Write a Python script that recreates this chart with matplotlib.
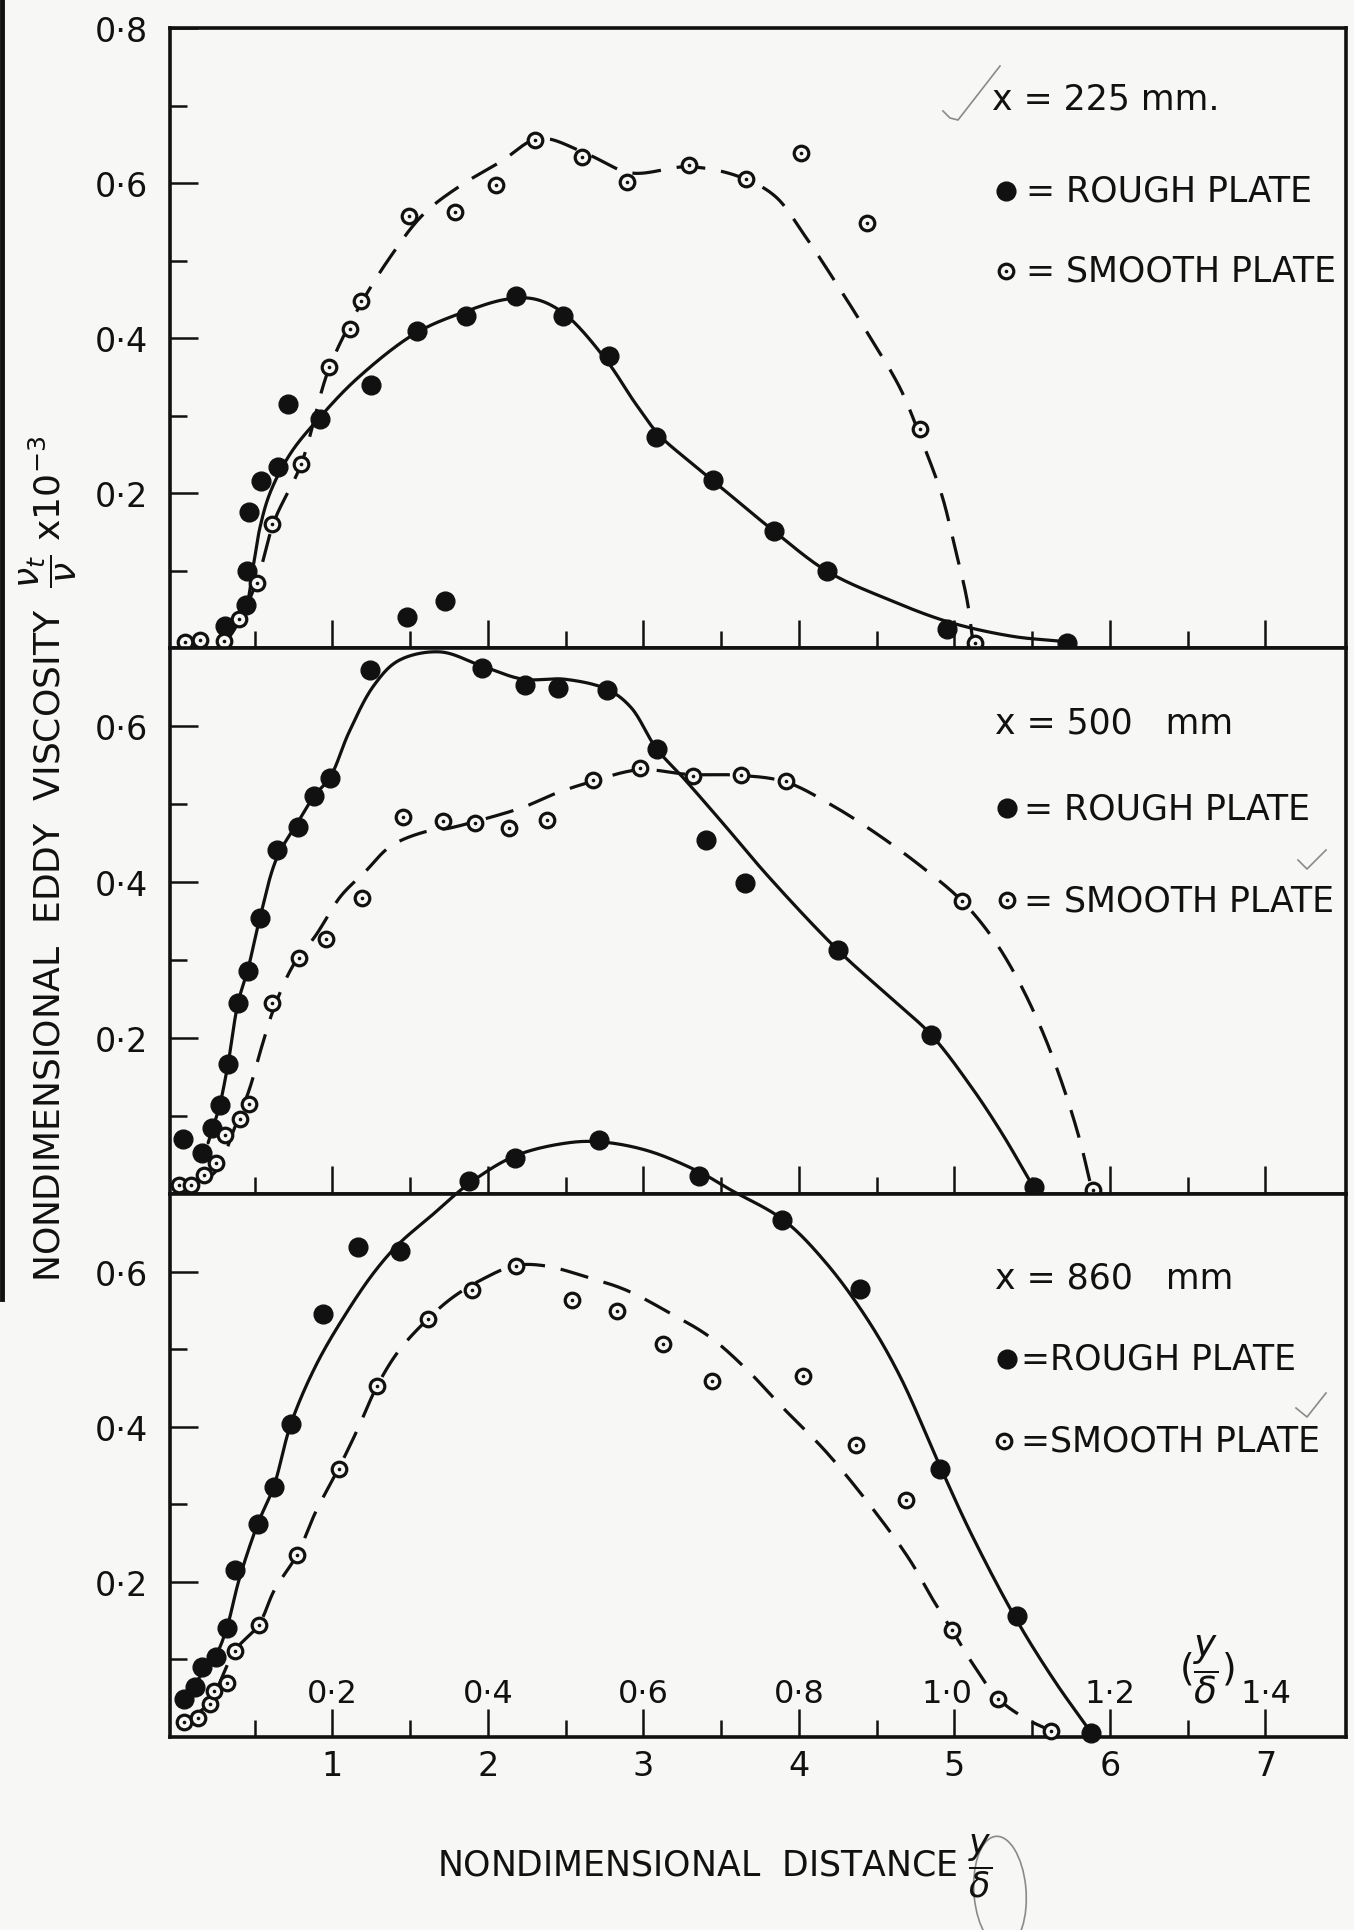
import numpy as np
import matplotlib
matplotlib.use("Agg")
import matplotlib.pyplot as plt
from matplotlib.lines import Line2D
from matplotlib.patches import Ellipse
from matplotlib.ticker import FixedLocator, FixedFormatter, NullFormatter

plt.rcParams['font.family'] = ['DejaVu Sans']
plt.rcParams['mathtext.fontset'] = 'dejavusans'

PAPER = '#f7f7f5'
INK = '#111111'

# ---------------- x = 225 mm ----------------
x225_rough = [0.306, 0.445, 0.453, 0.466, 0.541, 0.648, 0.714, 0.92, 1.245, 1.479,
              1.546, 1.725, 1.861, 2.178, 2.484, 2.778, 3.079, 3.447, 3.84, 4.181,
              4.951, 5.723]
nu225_rough = [0.029, 0.056, 0.099, 0.176, 0.215, 0.233, 0.315, 0.296, 0.339, 0.040,
               0.409, 0.061, 0.429, 0.454, 0.429, 0.377, 0.2725, 0.217, 0.151, 0.099,
               0.024, 0.006]
x225_smooth = [0.053, 0.146, 0.301, 0.40, 0.514, 0.613, 0.80, 0.978, 1.111, 1.181,
               1.493, 1.786, 2.053, 2.30, 2.607, 2.893, 3.29, 3.66, 4.01, 4.436,
               4.78, 5.133]
nu225_smooth = [0.008, 0.010, 0.009, 0.038, 0.084, 0.160, 0.238, 0.363, 0.411, 0.448,
                0.558, 0.5625, 0.598, 0.655, 0.634, 0.601, 0.623, 0.605, 0.639, 0.548,
                0.283, 0.006]
# faired curves
fx225_rough = [0.306, 0.426, 0.493, 0.533, 0.60, 0.733, 0.92, 1.16, 1.533, 1.853,
               2.119, 2.306, 2.493, 2.759, 2.95, 3.1, 3.3, 3.5, 3.826, 4.181,
               4.57, 4.972, 5.375, 5.67]
fy225_rough = [0.026, 0.045, 0.109, 0.155, 0.201, 0.252, 0.298, 0.348, 0.406, 0.434,
               0.450, 0.450, 0.431, 0.372, 0.315, 0.275, 0.240, 0.207, 0.153, 0.099,
               0.063, 0.033, 0.015, 0.009]
fx225_smooth = [0.30, 0.346, 0.506, 0.626, 0.80, 0.973, 1.16, 1.373, 1.586, 1.826,
                2.093, 2.279, 2.386, 2.653, 2.919, 3.293, 3.612, 3.846, 4.034, 4.248,
                4.436, 4.651, 4.785, 4.919, 5.0, 5.08, 5.12]
fy225_smooth = [0.009, 0.017, 0.082, 0.164, 0.238, 0.358, 0.436, 0.505, 0.560, 0.597,
                0.629, 0.6545, 0.657, 0.636, 0.613, 0.621, 0.6085, 0.583, 0.533, 0.468,
                0.408, 0.335, 0.270, 0.197, 0.132, 0.063, 0.006]

# ---------------- x = 500 mm ----------------
x500_rough = [0.04, 0.16, 0.226, 0.274, 0.328, 0.392, 0.458, 0.533, 0.64, 0.781,
              0.88, 0.986, 1.239, 1.96, 2.24, 2.453, 2.767, 3.084, 3.40, 3.652,
              4.248, 4.851, 5.509]
nu500_rough = [0.071, 0.053, 0.085, 0.114, 0.167, 0.245, 0.286, 0.354, 0.441, 0.471,
               0.51, 0.533, 0.672, 0.6745, 0.652, 0.649, 0.646, 0.571, 0.454, 0.399,
               0.313, 0.2045, 0.009]
x500_smooth = [0.013, 0.093, 0.173, 0.253, 0.306, 0.408, 0.461, 0.613, 0.786, 0.96,
               1.19, 1.453, 1.711, 1.914, 2.133, 2.381, 2.674, 2.978, 3.319, 3.626,
               3.916, 5.048, 5.889]
nu500_smooth = [0.0115, 0.012, 0.025, 0.040, 0.0755, 0.096, 0.116, 0.245, 0.303, 0.327,
                0.380, 0.484, 0.478, 0.476, 0.469, 0.480, 0.5305, 0.5465, 0.536, 0.537,
                0.529, 0.376, 0.0055]
fx500_rough = [0.20, 0.274, 0.328, 0.392, 0.458, 0.533, 0.64, 0.781, 0.88, 0.986,
               1.106, 1.266, 1.426, 1.693, 1.96, 2.226, 2.493, 2.767, 2.919, 3.084,
               3.25, 3.5, 3.8, 4.25, 4.6, 4.85, 5.1, 5.3, 5.509]
fy500_rough = [0.066, 0.114, 0.167, 0.245, 0.29, 0.354, 0.43, 0.478, 0.51, 0.535,
               0.592, 0.652, 0.684, 0.695, 0.677, 0.66, 0.66, 0.647, 0.624, 0.571,
               0.535, 0.478, 0.408, 0.313, 0.25, 0.2045, 0.14, 0.08, 0.009]
fx500_smooth = [0.17, 0.266, 0.36, 0.466, 0.546, 0.626, 0.746, 0.893, 1.053, 1.213,
                1.373, 1.586, 1.746, 1.96, 2.226, 2.439, 2.653, 2.973, 3.293, 3.612,
                3.913, 4.2, 4.5, 4.8, 5.048, 5.24, 5.40, 5.563, 5.696, 5.804,
                5.884]
fy500_smooth = [0.015, 0.034, 0.080, 0.135, 0.190, 0.240, 0.293, 0.332, 0.382, 0.414,
                0.446, 0.464, 0.469, 0.480, 0.496, 0.514, 0.528, 0.544, 0.538, 0.537,
                0.5285, 0.50, 0.462, 0.418, 0.376, 0.33, 0.278, 0.21, 0.14, 0.071,
                0.0055]

# ---------------- x = 860 mm ----------------
x860_rough = [0.045, 0.114, 0.16, 0.248, 0.32, 0.373, 0.52, 0.621, 0.733, 0.941,
              1.165, 1.434, 1.879, 2.172, 2.714, 3.359, 3.89, 4.39, 4.905, 5.401,
              5.879]
nu860_rough = [0.049, 0.064, 0.090, 0.1026, 0.1395, 0.2155, 0.275, 0.322, 0.404, 0.546,
               0.632, 0.6275, 0.717, 0.747, 0.770, 0.724, 0.667, 0.578, 0.346, 0.156,
               0.005]
x860_smooth = [0.045, 0.133, 0.213, 0.24, 0.32, 0.373, 0.525, 0.773, 1.039, 1.287,
               1.613, 1.898, 2.181, 2.538, 2.831, 3.127, 3.439, 4.028, 4.369, 4.691,
               4.986, 5.281, 5.624]
nu860_smooth = [0.019, 0.0235, 0.042, 0.059, 0.0695, 0.110, 0.144, 0.235, 0.346, 0.4526,
                0.539, 0.577, 0.607, 0.563, 0.549, 0.507, 0.4595, 0.4655, 0.377, 0.306,
                0.137, 0.049, 0.007]
fx860_rough = [0.04, 0.16, 0.253, 0.32, 0.40, 0.52, 0.621, 0.733, 0.893, 1.08,
               1.266, 1.426, 1.639, 1.879, 2.172, 2.493, 2.714, 3.026, 3.359, 3.559,
               3.90, 4.168, 4.436, 4.65, 4.905, 5.107, 5.401, 5.643, 5.879]
fy860_rough = [0.042, 0.081, 0.106, 0.14, 0.203, 0.275, 0.322, 0.404, 0.479, 0.544,
               0.599, 0.636, 0.673, 0.714, 0.7495, 0.766, 0.768, 0.7565, 0.729, 0.706,
               0.667, 0.613, 0.540, 0.465, 0.350, 0.262, 0.150, 0.072, 0.005]
fx860_smooth = [0.045, 0.2, 0.373, 0.525, 0.626, 0.773, 0.893, 1.039, 1.16, 1.287,
                1.426, 1.613, 1.773, 1.96, 2.172, 2.359, 2.626, 2.893, 3.159, 3.426,
                3.66, 3.899, 4.168, 4.436, 4.704, 4.865, 4.986, 5.107, 5.281, 5.455,
                5.624]
fy860_smooth = [0.019, 0.042, 0.111, 0.144, 0.189, 0.235, 0.2905, 0.346, 0.396, 0.4526,
                0.498, 0.539, 0.567, 0.590, 0.608, 0.608, 0.594, 0.576, 0.548, 0.516,
                0.4747, 0.424, 0.369, 0.304, 0.2306, 0.1755, 0.137, 0.097, 0.049, 0.0235,
                0.007]

stations = ['x = 225 mm.', 'x = 500   mm', 'x = 860   mm']
rough_text = ['= ROUGH PLATE', '= ROUGH PLATE', '=ROUGH PLATE']
smooth_text = ['= SMOOTH PLATE', '= SMOOTH PLATE', '=SMOOTH PLATE']
y_ticks_major = [[0.2, 0.4, 0.6, 0.8], [0.2, 0.4, 0.6], [0.2, 0.4, 0.6]]
x_tick_labels = ['1', '2', '3', '4', '5', '6', '7']
y_over_delta = ['0·2', '0·4', '0·6', '0·8', '1·0', '1·2', '1·4']


def faired(xs, ys, n=40, yscale=5.0):
    """Centripetal Catmull-Rom curve through the faired-curve nodes."""
    P = np.column_stack([xs, np.asarray(ys) * yscale]).astype(float)
    P = np.vstack([2 * P[0] - P[1], P, 2 * P[-1] - P[-2]])
    out = []
    for i in range(1, len(P) - 2):
        p0, p1, p2, p3 = P[i - 1], P[i], P[i + 1], P[i + 2]
        t0 = 0.0
        t1 = t0 + np.linalg.norm(p1 - p0) ** 0.5
        t2 = t1 + np.linalg.norm(p2 - p1) ** 0.5
        t3 = t2 + np.linalg.norm(p3 - p2) ** 0.5
        t = np.linspace(t1, t2, n, endpoint=False)[:, None]
        a1 = (t1 - t) / (t1 - t0) * p0 + (t - t0) / (t1 - t0) * p1
        a2 = (t2 - t) / (t2 - t1) * p1 + (t - t1) / (t2 - t1) * p2
        a3 = (t3 - t) / (t3 - t2) * p2 + (t - t2) / (t3 - t2) * p3
        b1 = (t2 - t) / (t2 - t0) * a1 + (t - t0) / (t2 - t0) * a2
        b2 = (t3 - t) / (t3 - t1) * a2 + (t - t1) / (t3 - t1) * a3
        c = (t2 - t) / (t2 - t1) * b1 + (t - t1) / (t2 - t1) * b2
        out.append(c)
    out.append(P[-2][None])
    C = np.vstack(out)
    return C[:, 0], C[:, 1] / yscale


W, H = 1354, 1931
fig = plt.figure(figsize=(W / 100, H / 100), dpi=100, facecolor=PAPER)

left = 170 / W
width = (1346 - 170) / W
edges = [29, 649, 1195.4, 1737.5]
ylims = [0.8, 0.70, 0.70]

panels = [
    (x225_rough, nu225_rough, x225_smooth, nu225_smooth,
     fx225_rough, fy225_rough, fx225_smooth, fy225_smooth),
    (x500_rough, nu500_rough, x500_smooth, nu500_smooth,
     fx500_rough, fy500_rough, fx500_smooth, fy500_smooth),
    (x860_rough, nu860_rough, x860_smooth, nu860_smooth,
     fx860_rough, fy860_rough, fx860_smooth, fy860_smooth),
]
# legend anchor positions (data units of each panel)
legend_pos = [
    dict(title=(5.24, 0.709), rough=(5.33, 0.590), smooth=(5.33, 0.487), tx=5.46),
    dict(title=(5.26, 0.604), rough=(5.34, 0.495), smooth=(5.34, 0.377), tx=5.45),
    dict(title=(5.26, 0.593), rough=(5.34, 0.488), smooth=(5.32, 0.382), tx=5.43),
]
LEG_FS = 25

LW_SPINE = 2.6
LW_CURVE = 2.3

axes = []
for i in range(3):
    top, bot = edges[i], edges[i + 1]
    ax = fig.add_axes([left, 1 - bot / H, width, (bot - top) / H])
    ax.set_facecolor(PAPER)
    ax.set_xlim(-0.045, 7.518)
    ax.set_ylim(0, ylims[i])
    for s in ax.spines.values():
        s.set_linewidth(LW_SPINE)
        s.set_color(INK)
    ax.xaxis.set_major_locator(FixedLocator([1, 2, 3, 4, 5, 6, 7]))
    ax.xaxis.set_minor_locator(FixedLocator([0.5, 1.5, 2.5, 3.5, 4.5, 5.5, 6.5]))
    ymaj = y_ticks_major[i]
    ax.yaxis.set_major_locator(FixedLocator(ymaj))
    ax.yaxis.set_major_formatter(FixedFormatter([f'{v:.1f}'.replace('.', '·') for v in ymaj]))
    ax.yaxis.set_minor_locator(FixedLocator([0.1, 0.3, 0.5, 0.7][:4 if i == 0 else 3]))
    ax.yaxis.set_minor_formatter(NullFormatter())
    ax.tick_params(which='major', direction='in', length=20, width=1.8, color=INK,
                   top=False, right=False, labelsize=24, labelcolor=INK)
    ax.tick_params(which='minor', direction='in', length=12, width=1.8, color=INK,
                   top=False, right=False)
    ax.tick_params(axis='y', which='major', pad=16)
    if i < 2:
        ax.tick_params(axis='x', labelbottom=False)
    else:
        ax.xaxis.set_major_formatter(FixedFormatter(x_tick_labels))
        ax.tick_params(axis='x', which='major', pad=9)

    xr, yr, xs, ys, fxr, fyr, fxs, fys = panels[i]
    cx, cy = faired(fxr, fyr)
    ax.plot(cx, cy, '-', color=INK, lw=LW_CURVE, clip_on=False, zorder=3,
            solid_capstyle='round')
    cx, cy = faired(fxs, fys)
    ax.plot(cx, cy, color=INK, lw=LW_CURVE, dashes=(9, 5), clip_on=False, zorder=3)
    ax.plot(xr, yr, 'o', ms=13.5, color=INK, mec=INK, clip_on=False, zorder=5)
    ax.plot(xs, ys, 'o', ms=10.5, mfc=PAPER, mec=INK, mew=2.3, clip_on=False, zorder=5)
    ax.plot(xs, ys, 'o', ms=2.6, color=INK, mew=0, clip_on=False, zorder=6)

    lp = legend_pos[i]
    ax.text(*lp['title'], stations[i], fontsize=LEG_FS, color=INK, ha='left', va='center')
    ax.plot(*lp['rough'], 'o', ms=13.5, color=INK)
    ax.text(lp['tx'], lp['rough'][1], rough_text[i], fontsize=LEG_FS, color=INK,
            ha='left', va='center')
    ax.plot(*lp['smooth'], 'o', ms=10.5, mfc=PAPER, mec=INK, mew=2.3)
    ax.plot(*lp['smooth'], 'o', ms=2.6, color=INK, mew=0)
    ax.text(lp['tx'], lp['smooth'][1], smooth_text[i], fontsize=LEG_FS, color=INK,
            ha='left', va='center')
    axes.append(ax)

ax3 = axes[2]
for k, lab in enumerate(y_over_delta):
    xpos = [1, 2, 3, 4, 4.95, 6, 7][k]
    ax3.text(xpos, 0.056, lab, fontsize=23, color=INK, ha='center', va='center')
ax3.text(6.62, 0.088, r'$(\dfrac{y}{\delta})$', fontsize=27, color=INK,
         ha='center', va='center')

fig.text(0.036, 0.555,
         r'NONDIMENSIONAL  EDDY  VISCOSITY  $\dfrac{\nu_t}{\nu}$ x10$^{-3}$',
         rotation=90, fontsize=26, color=INK, ha='center', va='center')
fig.text(437 / W, 1 - 1866 / H, r'NONDIMENSIONAL  DISTANCE $\dfrac{y}{\delta}$',
         fontsize=25, color=INK, ha='left', va='center')

# pencil marks on the sheet
pencil = dict(color='#8a8a8a', lw=1.2, transform=fig.transFigure)


def pencil_line(px, py):
    fig.add_artist(Line2D(np.asarray(px) / W, 1 - np.asarray(py) / H, **pencil))


pencil_line([943, 950, 958, 1000], [112, 119, 121, 67])
pencil_line([1298, 1307, 1326], [861, 870, 851])
pencil_line([1296, 1307, 1326], [1409, 1418, 1394])
fig.add_artist(Ellipse((1000 / W, 1 - 1893 / H), 52 / W, 112 / H, angle=8,
                       fill=False, ec='#8a8a8a', lw=1.2, transform=fig.transFigure))

# dark scan edge on the left border
fig.add_artist(Line2D([2 / W, 2 / W], [1, 1 - 1300 / H], color=INK, lw=3.5,
                      transform=fig.transFigure))

fig.savefig('out.png', dpi=100, facecolor=PAPER)
